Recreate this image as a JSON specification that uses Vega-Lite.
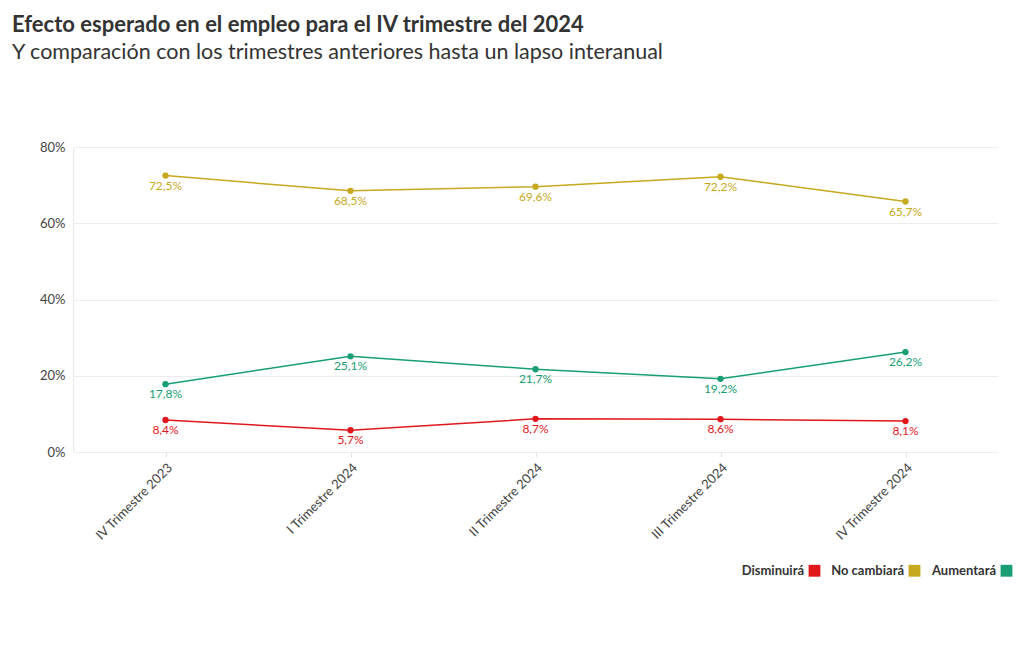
{
  "$schema": "https://vega.github.io/schema/vega-lite/v6.json",
  "width": 925,
  "height": 305,
  "autosize": {"type": "none"},
  "padding": {"left": 73, "top": 147, "right": 22, "bottom": 198},
  "background": "white",
  "title": {
    "text": "Efecto esperado en el empleo para el IV trimestre del 2024",
    "subtitle": "Y comparación con los trimestres anteriores hasta un lapso interanual",
    "anchor": "start",
    "frame": "group",
    "dx": -61,
    "offset": 77,
    "font": "Lato",
    "fontSize": 22,
    "fontWeight": "bold",
    "color": "#333333",
    "subtitleFont": "Lato",
    "subtitleFontSize": 21.5,
    "subtitleColor": "#333333",
    "subtitlePadding": 5
  },
  "data": {
    "values": [
      {"trimestre": "IV Trimestre 2023", "serie": "Disminuirá", "valor": 0.084},
      {"trimestre": "I Trimestre 2024", "serie": "Disminuirá", "valor": 0.057},
      {"trimestre": "II Trimestre 2024", "serie": "Disminuirá", "valor": 0.087},
      {"trimestre": "III Trimestre 2024", "serie": "Disminuirá", "valor": 0.086},
      {"trimestre": "IV Trimestre 2024", "serie": "Disminuirá", "valor": 0.081},
      {"trimestre": "IV Trimestre 2023", "serie": "No cambiará", "valor": 0.725},
      {"trimestre": "I Trimestre 2024", "serie": "No cambiará", "valor": 0.685},
      {"trimestre": "II Trimestre 2024", "serie": "No cambiará", "valor": 0.696},
      {"trimestre": "III Trimestre 2024", "serie": "No cambiará", "valor": 0.722},
      {"trimestre": "IV Trimestre 2024", "serie": "No cambiará", "valor": 0.657},
      {"trimestre": "IV Trimestre 2023", "serie": "Aumentará", "valor": 0.178},
      {"trimestre": "I Trimestre 2024", "serie": "Aumentará", "valor": 0.251},
      {"trimestre": "II Trimestre 2024", "serie": "Aumentará", "valor": 0.217},
      {"trimestre": "III Trimestre 2024", "serie": "Aumentará", "valor": 0.192},
      {"trimestre": "IV Trimestre 2024", "serie": "Aumentará", "valor": 0.262}
    ]
  },
  "encoding": {
    "x": {
      "field": "trimestre",
      "type": "ordinal",
      "sort": null,
      "scale": {"type": "point", "padding": 0.5},
      "axis": {
        "title": null,
        "labelAngle": -45,
        "labelFont": "Lato",
        "labelFontSize": 13,
        "labelColor": "#444444",
        "domain": false,
        "grid": false,
        "ticks": true,
        "tickColor": "#e6e6e6",
        "tickSize": 5,
        "labelPadding": 4
      }
    },
    "y": {
      "field": "valor",
      "type": "quantitative",
      "scale": {"domain": [0, 0.8], "nice": false},
      "axis": {
        "title": null,
        "format": ".0%",
        "values": [0, 0.2, 0.4, 0.6, 0.8],
        "labelFont": "Lato",
        "labelFontSize": 13,
        "labelColor": "#444444",
        "domain": true,
        "domainColor": "#e8e8e8",
        "ticks": false,
        "labelPadding": 8,
        "gridColor": "#ececec"
      }
    },
    "color": {
      "field": "serie",
      "type": "nominal",
      "scale": {
        "domain": ["Disminuirá", "No cambiará", "Aumentará"],
        "range": ["#e0181c", "#c6a91e", "#179e74"]
      },
      "legend": {
        "title": null,
        "orient": "none",
        "legendX": 735,
        "legendY": 417,
        "direction": "horizontal",
        "symbolType": "square",
        "symbolSize": 140,
        "symbolStrokeWidth": 0,
        "labelFont": "Lato",
        "labelFontSize": 13,
        "labelFontWeight": "bold",
        "labelColor": "#333333",
        "labelAlign": "right",
        "labelOffset": -17,
        "columnPadding": 10
      }
    }
  },
  "layer": [
    {"mark": {"type": "line", "strokeWidth": 1.5}},
    {"mark": {"type": "circle", "size": 40, "opacity": 1}},
    {
      "mark": {"type": "text", "dy": 5, "baseline": "top", "font": "Lato", "fontSize": 12},
      "encoding": {"text": {"field": "valor", "type": "quantitative", "format": ".1%"}}
    }
  ],
  "config": {
    "view": {"stroke": null},
    "locale": {
      "number": {"decimal": ",", "thousands": ".", "grouping": [3], "currency": ["", " €"]}
    }
  }
}
